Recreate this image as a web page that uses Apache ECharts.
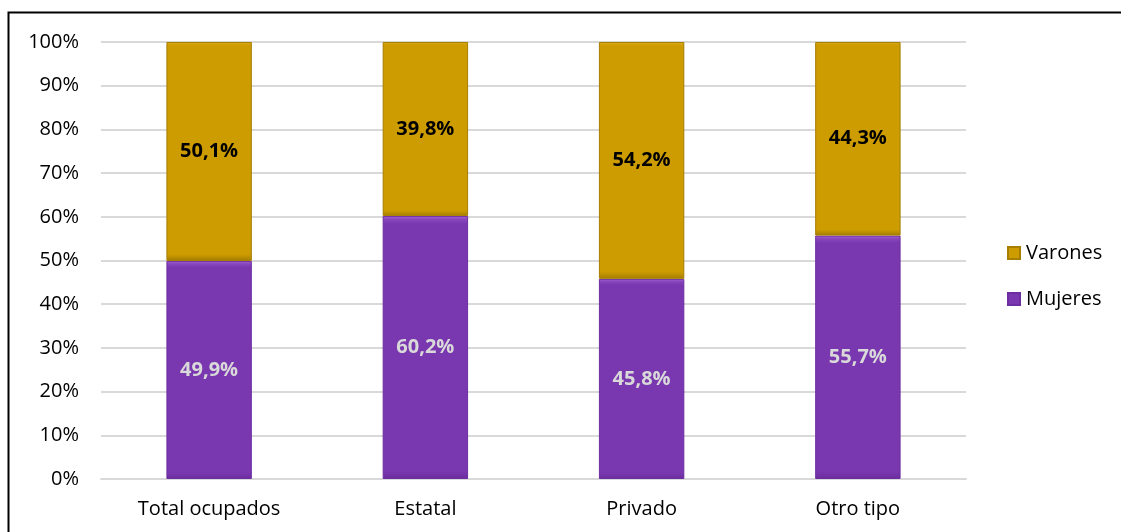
<!DOCTYPE html>
<html>
<head>
<meta charset="utf-8">
<script src="https://cdn.jsdelivr.net/npm/echarts@6/dist/echarts.min.js"></script>
<style>html,body{margin:0;padding:0;background:#fff}#c{width:1121px;height:532px}</style>
</head>
<body>
<div id="c"></div>
<script>
const categories = ['Total ocupados', 'Estatal', 'Privado', 'Otro tipo'];
const mujeres = [49.9, 60.2, 45.8, 55.7];
const varones = [50.1, 39.8, 54.2, 44.3];
const yTicks = [0, 10, 20, 30, 40, 50, 60, 70, 80, 90, 100];

const FONT = '"Open Sans", "Noto Sans", sans-serif';
const fmt = v => v.toFixed(1).replace('.', ',') + '%';

const chart = echarts.init(document.getElementById('c'), null, {renderer: 'canvas'});
chart.setOption({
  animation: false,
  backgroundColor: '#fff',
  graphic: [{
    type: 'rect', silent: true, z: 100,
    shape: {x: 8.5, y: 12.5, width: 1200, height: 600},
    style: {fill: 'none', stroke: '#000', lineWidth: 2}
  }],
  grid: {left: 101, right: 155, top: 42, bottom: 53, containLabel: false},
  legend: {
    orient: 'vertical', left: 1002, top: 238, itemGap: 26,
    itemWidth: 12, itemHeight: 12, icon: 'rect',
    data: ['Varones', 'Mujeres'],
    textStyle: {fontFamily: FONT, fontSize: 20, lineHeight: 20, color: '#000', padding: [0, 0, 0, 1]}
  },
  xAxis: {
    type: 'category', data: categories,
    axisLine: {show: true, lineStyle: {color: '#d9d9d9', width: 2}},
    axisTick: {show: false},
    axisLabel: {fontFamily: FONT, fontSize: 20, color: '#000', margin: 20}
  },
  yAxis: {
    type: 'value', min: 0, max: 100, interval: 10,
    axisLine: {show: false}, axisTick: {show: false},
    splitLine: {lineStyle: {color: '#d9d9d9', width: 2}},
    axisLabel: {fontFamily: FONT, fontSize: 20, color: '#000', margin: 22,
      formatter: v => yTicks.includes(v) ? v + '%' : ''}
  },
  series: [
    {
      name: 'Mujeres', type: 'bar', stack: 't', barWidth: '39.5%',
      data: mujeres,
      itemStyle: {
        color: new echarts.graphic.LinearGradient(0, 0, 0, 1, [
          {offset: 0, color: '#a768d8'}, {offset: 0.012, color: '#8a48bf'},
          {offset: 0.03, color: '#7a38b0'}, {offset: 0.97, color: '#7a38b0'}, {offset: 1, color: '#6a2c9c'}
        ]),
        borderColor: '#6c2ea0', borderWidth: 1
      },
      label: {show: true, position: 'inside', formatter: p => fmt(p.value),
        fontFamily: FONT, fontSize: 20, fontWeight: 'bold', color: '#d9d9d9'}
    },
    {
      name: 'Varones', type: 'bar', stack: 't', barWidth: '39.5%',
      data: varones,
      itemStyle: {
        color: new echarts.graphic.LinearGradient(0, 0, 0, 1, [
          {offset: 0, color: '#e0b020'}, {offset: 0.015, color: '#cc9c00'},
          {offset: 0.97, color: '#cc9c00'}, {offset: 1, color: '#a47c00'}
        ]),
        borderColor: '#a67e00', borderWidth: 1
      },
      label: {show: true, position: 'inside', formatter: p => fmt(p.value),
        fontFamily: FONT, fontSize: 20, fontWeight: 'bold', color: '#000'}
    }
  ]
});
</script>
</body>
</html>
